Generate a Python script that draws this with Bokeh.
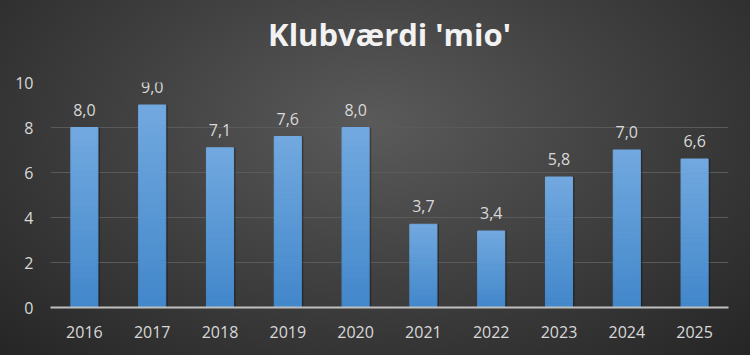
import numpy as np
from bokeh.plotting import figure
from bokeh.models import ColumnDataSource, FactorRange, Range1d, FixedTicker, InlineStyleSheet, Title
from bokeh.core.properties import value
from bokeh.transform import dodge
from bokeh.embed import file_html
from bokeh.resources import INLINE

years = ["2016", "2017", "2018", "2019", "2020", "2021", "2022", "2023", "2024", "2025"]
values = [8.0, 9.0, 7.1, 7.6, 8.0, 3.7, 3.4, 5.8, 7.0, 6.6]
y_ticks = [0, 2, 4, 6, 8, 10]
title_text = "Klubværdi 'mio'"

FONT = "Open Sans"
TXT = "#d9d9d9"

p = figure(x_range=FactorRange(*years), y_range=Range1d(0, 10), title=None,
           width=750, height=355, output_backend="svg", toolbar_location=None,
           min_border_left=50, min_border_right=22, min_border_top=82, min_border_bottom=48)

p.stylesheets = [InlineStyleSheet(css=":host { background: radial-gradient(ellipse 70% 90% at 50% 35%, #5a5a5a 0%, #424242 45%, #262626 100%); }")]
p.border_fill_alpha = 0
p.background_fill_alpha = 0
p.outline_line_color = None

p.add_layout(Title(text=" ", text_font_size="8px", text_font=FONT), "above")
p.add_layout(Title(text=title_text, align="center", offset=-20, text_font=FONT, text_font_size="31px",
                   text_font_style="bold", text_color="#f2f2f2"), "above")

# shadow
src = ColumnDataSource(dict(year=years, value=values,
                            label=[f"{v:.1f}".replace(".", ",") for v in values]))
p.vbar(x=dodge("year", 0.03, range=p.x_range), top="value", width=0.4, source=src,
       fill_color="black", fill_alpha=0.3, line_color=None)

# gradient bars
N = 30
top_c = np.array([114, 169, 223])
bot_c = np.array([66, 135, 203])
xs, bs, ts, cs = [], [], [], []
for yr, v in zip(years, values):
    for i in range(N):
        f = (i + 0.5) / N
        c = bot_c + (top_c - bot_c) * f
        xs.append(yr)
        bs.append(v * i / N)
        ts.append(v * (i + 1) / N)
        cs.append("#%02x%02x%02x" % tuple(int(round(k)) for k in c))
gsrc = ColumnDataSource(dict(x=xs, b=bs, t=ts, c=cs))
p.vbar(x="x", bottom="b", top="t", width=0.4, source=gsrc, fill_color="c", line_color="c", line_width=1)

p.text(x="year", y="value", text="label", source=src, text_align="center", text_baseline="bottom",
       y_offset=-12, text_font=value(FONT), text_font_size=value("16px"), text_color=TXT)

p.xgrid.grid_line_color = None
p.ygrid.grid_line_color = "#5a5a5a"
p.ygrid.grid_line_width = 1.2
p.yaxis.ticker = FixedTicker(ticks=y_ticks)

for ax in (p.xaxis[0], p.yaxis[0]):
    ax.major_tick_line_color = None
    ax.minor_tick_line_color = None
    ax.major_label_text_color = TXT
    ax.major_label_text_font = FONT
    ax.major_label_text_font_size = "16px"
p.yaxis.axis_line_color = None
p.yaxis.major_label_standoff = 11
p.xaxis.axis_line_color = "#bfbfbf"
p.xaxis.axis_line_width = 2
p.xaxis.major_label_standoff = 12

open("out.html", "w").write(file_html(p, INLINE))
